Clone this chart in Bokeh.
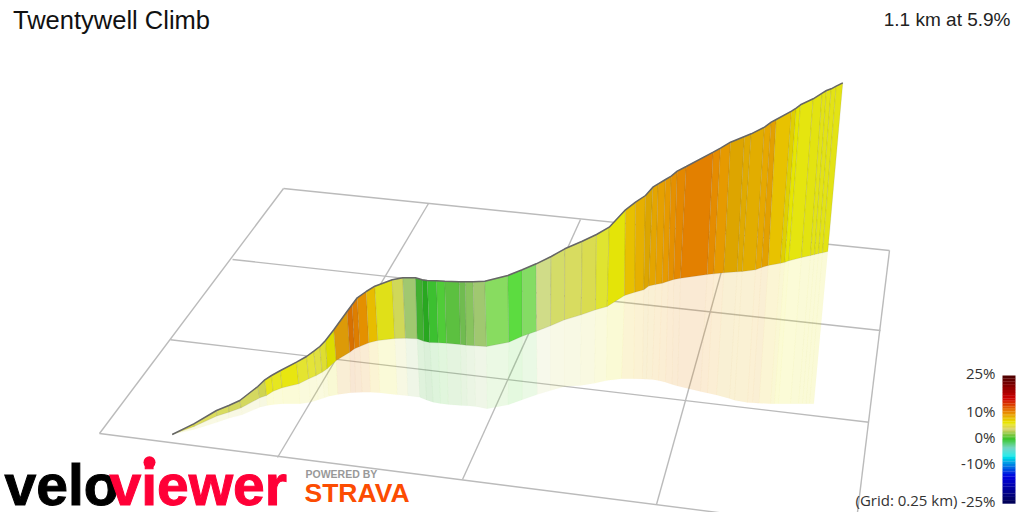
from bokeh.plotting import figure
from bokeh.models import Range1d
from bokeh.core.properties import value
from bokeh.embed import file_html
from bokeh.resources import INLINE

# Profile: ridge, wall foot and ground shadow of each station
top_x = [171.7,193.3,216,228.3,239.3,257.3,264.3,271,280,296,306,313.3,319.3,325,333.3,346.7,351.7,356.7,365.7,374.3,391.7,402.3,415,421.7,426.7,436,444.3,458.7,465,472.7,484.3,507.3,521.7,535.7,550.7,564.3,581.7,596,608.7,625,635,645,652.3,657.7,665,670.7,676.7,685.7,712.7,720,730,744,750.7,764,770.7,775.7,791,795.7,800,812.7,821.7,826,830.7,835.7,842.3]
top_y = [434,423.3,410,405,400,386,379.3,375,370,361.7,356,350.7,346,340,329.3,310.7,304,297.3,291,285.7,279.3,277.3,277.3,279.3,280,280.3,280.7,281.3,281.3,281.3,280.7,275,269.3,263.3,256,248.3,240.7,234,226.7,209.3,201.7,195,186.7,183.3,179,175.7,170.7,166,151.7,147.7,141.7,136,133.3,126.7,121.7,119,110.7,107.7,104.3,98.3,92.7,90,88.3,85.7,82.3]
foot_x = [171.7,193.5,216.3,228.3,240.7,259.3,266,272.7,281.7,298.3,308.3,315.7,321.7,326.7,335.7,349.3,354,359.3,368.3,377.3,394.3,405,416.7,423.3,429.3,437.7,446,460,465.7,474,486,508.3,521.7,536,550,564,580.7,595,606.7,624,634.3,643.3,648.3,655,661.7,667.7,673.3,680,706.7,713.3,723.3,736.7,741.7,755,761,767.7,780,784.3,788.3,801,810,814,818,822,827.3]
foot_y = [434,426,415.5,411.7,407.3,397.3,395,390.7,387.3,383.3,378.3,375,371.7,368.3,360,351.7,348.3,346,342.3,340,338,337.7,338.3,340.7,342,342.3,342.7,344,344.7,345.3,346,341.7,335.7,330.7,325.3,319.3,314.3,309.3,306,295,291.7,289.3,285.5,284,282.7,280.7,279,277.7,274,273.3,272.3,271.3,271,269.3,267,265,262.7,261.7,260.3,257,255,254,253,252.2,251]
shadow_x = [171.7,193.5,216.7,228.3,241.7,259.3,266.7,273.3,282.7,299.3,310,317.7,324,328.3,337.3,350,355,361.7,370,379.3,396.7,407.3,419.3,426,432.7,440,447.7,461,466.7,475,486.7,507.7,521.7,536.7,550,564,580,594,606,621,633.3,642,646,651.7,658,665,671.7,677,700,707,716,729,734,747,752,758.5,770,774,778,790,798,802,805.5,809,813.3]
shadow_y = [434,429,421.7,417.7,414.3,406.7,405,404,403.3,403.3,401.7,399.3,397.3,395.7,394,392.3,392,391.7,391.7,392.3,394.3,395.3,396.7,399.5,401.7,403,404,405,405.3,406,408.3,404.3,399.3,394,390,386,385,382.7,380,378.3,378.3,378.5,378.7,379,380,381.7,384,385.5,391,392.5,394.5,398,399.7,402,402.3,402.7,403.3,403.3,403.3,403.3,403.3,403.3,403.3,403.3,403.3]
# Gradient colour of the stretch between a station and the next one
seg_colors = ["#e0e040","#dcdc5c","#d8dc60","#d4d860","#d4d860","#cfd450","#e8e618","#e6e620","#e8e610","#e4e430","#e4e438","#e0e040","#dede30","#dcdc00","#dc9a08","#d87000","#de7e00","#e49000","#e8bc00","#e0e018","#d0d858","#a0c870","#40b030","#28a820","#3cc030","#50cc38","#5cc040","#70bc50","#88c45e","#a0c870","#88dc60","#5cdc40","#84dc64","#d0dc88","#d4dc68","#d8dc60","#dadc50","#e0e430","#e4e408","#e8c000","#e6b000","#dca500","#e4a500","#e6a000","#e69a00","#e59000","#e48800","#e38000","#e58c00","#e69a00","#dda500","#e0aa00","#e2ad00","#e6a800","#e3a000","#e8c200","#e0d000","#e6e600","#e5e50f","#e3e310","#e3e314","#e3e314","#e3e314","#e3e314"]

# Grid lines of the ground plane
grid_x0 = [283,232,170,99,283,428,580,731,889]
grid_y0 = [188,259,339.3,433,188,203,219,235,250]
grid_x1 = [889,880,868.3,780,99,277,462,656,856]
grid_y1 = [250,330,421.7,520,433,457,479,504,520]

# Colour scale
scale_pct = [25,16,11,6.5,4,-0.4,-3.4,-6.6,-14.4,-25]
scale_col = [(74,0,0),(208,0,0),(232,128,0),(232,232,0),(216,208,96),(32,192,32),(96,208,192),(0,232,232),(0,0,224),(0,0,80)]
scale_labels = ["25%","10%","0%","-10%","-25%"]
scale_label_pct = [25,10,0,-10,-25]

title = "Twentywell Climb"
summary = "1.1 km at 5.9%"
grid_note = "(Grid: 0.25 km)"

p = figure(width=1024, height=512, output_backend="svg", toolbar_location=None,
           x_range=Range1d(0, 1024), y_range=Range1d(512, 0),
           min_border=0, outline_line_color=None)
p.axis.visible = False
p.grid.visible = False
p.background_fill_color = "white"
p.border_fill_color = "white"

p.segment(grid_x0, grid_y0, grid_x1, grid_y1, line_color="#bbbbbb", line_width=1.4)

n = len(seg_colors)
p.patches([[shadow_x[i], shadow_x[i+1], foot_x[i+1], foot_x[i]] for i in range(n)],
          [[shadow_y[i], shadow_y[i+1], foot_y[i+1], foot_y[i]] for i in range(n)],
          fill_color=seg_colors, fill_alpha=0.17, line_color=seg_colors, line_alpha=0.04, line_width=0.6)
p.patches([[top_x[i], top_x[i+1], foot_x[i+1], foot_x[i]] for i in range(n)],
          [[top_y[i], top_y[i+1], foot_y[i+1], foot_y[i]] for i in range(n)],
          fill_color=seg_colors, line_color="#555555", line_alpha=0.16, line_width=0.8)
p.line(top_x, top_y, line_color="#666666", line_width=1.5)

# Colour bar
def pct_y(g):
    return 438 - 2.56 * g
bar_top, bar_bottom, bar_cols = [], [], []
for k in range(len(scale_pct) - 1):
    steps = 8
    for s in range(steps):
        t = s / steps
        g0 = scale_pct[k] + (scale_pct[k+1] - scale_pct[k]) * t
        g1 = scale_pct[k] + (scale_pct[k+1] - scale_pct[k]) * (t + 1 / steps)
        c = tuple(int(scale_col[k][j] + (scale_col[k+1][j] - scale_col[k][j]) * (t + 0.5 / steps)) for j in range(3))
        bar_top.append(pct_y(g0) + 1)
        bar_bottom.append(pct_y(g1) + 1.2)
        bar_cols.append("#%02x%02x%02x" % c)
p.quad(left=1002, right=1015, top=bar_top, bottom=bar_bottom, fill_color=bar_cols, line_color=None)
p.text(x=[995] * 5, y=[pct_y(g) - 1.5 for g in scale_label_pct], text=scale_labels,
       text_font=value("Open Sans"), text_font_size="15px", text_color="#333333",
       text_align="right", text_baseline="middle")
p.text(x=[957], y=[499], text=[grid_note], text_font=value("Open Sans"), text_font_size="15px",
       text_color="#333333", text_align="right", text_baseline="middle")

p.text(x=[12.5], y=[19], text=[title], text_font=value("Liberation Sans"), text_font_size="25.5px",
       text_color="#111111", text_baseline="alphabetic")
p.text(x=[1010], y=[19], text=[summary], text_font=value("Liberation Sans"), text_font_size="19px",
       text_color="#222222", text_align="right", text_baseline="alphabetic")

# Logos
p.text(x=[4], y=[484], text=["velo"], text_font=value("Liberation Sans"), text_font_size="57px",
       text_font_style="bold", text_color="#000000", text_baseline="alphabetic",
       text_outline_color="#000000")
p.text(x=[109], y=[484], text=["viewer"], text_font=value("Liberation Sans"), text_font_size="57px",
       text_font_style="bold", text_color="#ff0037", text_baseline="alphabetic",
       text_outline_color="#ff0037")
p.scatter(x=[149], y=[461.7], size=12, marker="circle", fill_color="#ff0037", line_color=None)
p.text(x=[305], y=[473], text=["POWERED BY"], text_font=value("Liberation Sans"), text_font_size="10.5px",
       text_font_style="bold", text_color="#999999", text_baseline="alphabetic")
p.text(x=[304], y=[492], text=["STRAVA"], text_font=value("Liberation Sans"), text_font_size="26.5px",
       text_font_style="bold", text_color="#fc4c02", text_baseline="alphabetic")

open("out.html", "w").write(file_html(p, INLINE))
